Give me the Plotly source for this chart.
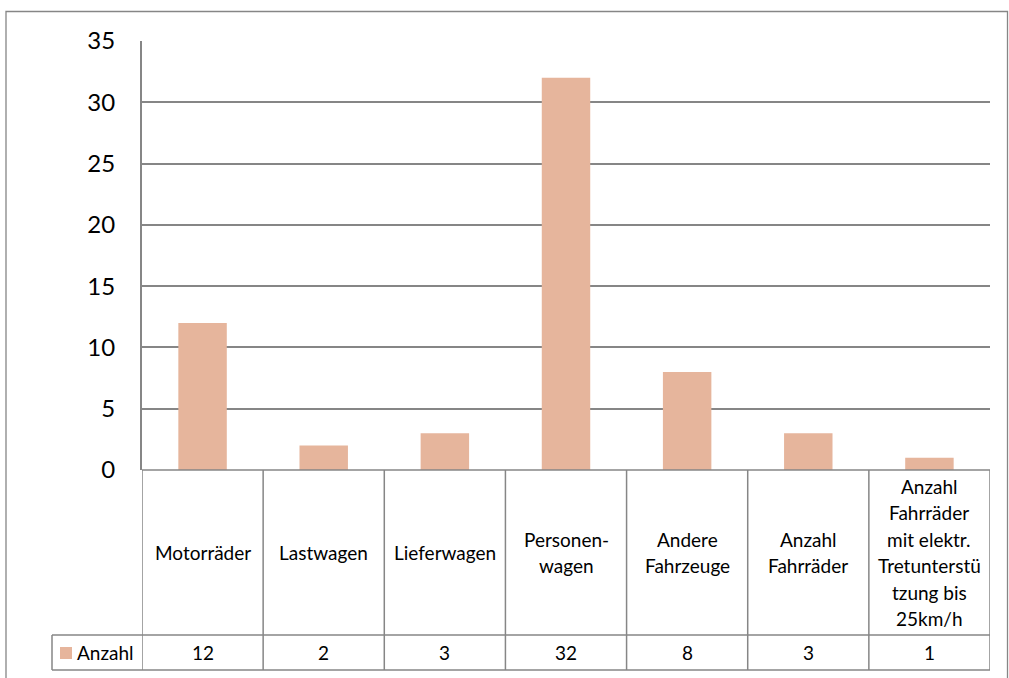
import plotly.graph_objects as go

# ---- data ----
categories = ["Motorräder", "Lastwagen", "Lieferwagen", "Personen-\nwagen",
              "Andere\nFahrzeuge", "Anzahl\nFahrräder",
              "Anzahl\nFahrräder\nmit elektr.\nTretunterstü\ntzung bis\n25km/h"]
values = [12, 2, 3, 32, 8, 3, 1]
series_name = "Anzahl"
y_ticks = [0, 5, 10, 15, 20, 25, 30, 35]

# ---- layout geometry (pixels) ----
W, H = 1009, 678
PL, PR, PT, PB = 142, 990, 41, 470   # plot area
ROW1_B, ROW2_B = 635, 670            # table row bottoms
LEG_L = 52
PH = PB - PT
PW = PR - PL

def py(p):  # pixel y -> paper y
    return (PB - p) / PH

def px(p):  # pixel x -> paper x
    return (p - PL) / PW

BAR = "#E6B59C"
GRID = "#868686"
FONT = "Lato, 'Open Sans', sans-serif"
TXT = 19

fig = go.Figure()
fig.add_trace(go.Bar(x=list(range(len(values))), y=values, name=series_name,
                     marker=dict(color=BAR, line=dict(width=0)),
                     showlegend=False))

shapes = []
# outer chart border
shapes.append(dict(type="rect", xref="paper", yref="paper",
                   x0=px(6), x1=px(1007.5), y0=py(720), y1=py(11.5),
                   line=dict(color=GRID, width=1.3), fillcolor="rgba(0,0,0,0)",
                   layer="below"))
n = len(values)
# table: horizontal lines
for yy in (PB, ROW1_B):
    shapes.append(dict(type="line", xref="x", yref="paper", x0=-0.5, x1=n - 0.5,
                       y0=py(yy), y1=py(yy), line=dict(color=GRID, width=1.5)))
shapes.append(dict(type="line", xref="paper", yref="paper", x0=px(LEG_L), x1=1,
                   y0=py(ROW2_B), y1=py(ROW2_B), line=dict(color=GRID, width=1.5)))
shapes.append(dict(type="line", xref="paper", yref="paper", x0=px(LEG_L), x1=0,
                   y0=py(ROW1_B), y1=py(ROW1_B), line=dict(color=GRID, width=1.5)))
shapes.append(dict(type="line", xref="paper", yref="paper", x0=px(LEG_L), x1=px(LEG_L),
                   y0=py(ROW1_B), y1=py(ROW2_B), line=dict(color=GRID, width=1.5)))
# table: vertical lines
for i in range(n + 1):
    shapes.append(dict(type="line", xref="x", yref="paper", x0=i - 0.5, x1=i - 0.5,
                       y0=py(PB), y1=py(ROW2_B), line=dict(color=GRID, width=1.5)))
# legend key
shapes.append(dict(type="rect", xref="paper", yref="paper",
                   x0=px(60), x1=px(72), y0=py(659), y1=py(647),
                   fillcolor=BAR, line=dict(width=0)))

annotations = []
LINE_H = 26.5
row1_c = (PB + ROW1_B) / 2
for i, cat in enumerate(categories):
    lines = cat.split("\n")
    k = len(lines)
    for j, t in enumerate(lines):
        yc = row1_c + (j - (k - 1) / 2) * LINE_H
        annotations.append(dict(x=i, xref="x", y=py(yc), yref="paper", text=t,
                                showarrow=False, xanchor="center", yanchor="middle",
                                font=dict(size=TXT, color="black", family=FONT)))
row2_c = (ROW1_B + ROW2_B) / 2
for i, v in enumerate(values):
    annotations.append(dict(x=i, xref="x", y=py(row2_c), yref="paper", text=str(v),
                            showarrow=False, xanchor="center", yanchor="middle",
                            font=dict(size=TXT, color="black", family=FONT)))
annotations.append(dict(x=px(75), xref="paper", y=py(row2_c), yref="paper",
                        text=series_name, showarrow=False, xanchor="left",
                        yanchor="middle",
                        font=dict(size=TXT, color="black", family=FONT)))

fig.update_layout(
    width=W, height=H,
    margin=dict(l=PL, r=W - PR, t=PT, b=H - PB, pad=0),
    paper_bgcolor="white", plot_bgcolor="white",
    bargap=0.6,
    font=dict(family=FONT, color="black"),
    xaxis=dict(range=[-0.5, n - 0.5], showticklabels=False, showgrid=False,
               zeroline=False, showline=False, ticks=""),
    yaxis=dict(range=[0, 35], tickvals=y_ticks, showgrid=True, gridcolor=GRID,
               gridwidth=1.5, zeroline=False, showline=True, linecolor=GRID,
               linewidth=2.2, ticks="", ticklabelstandoff=20,
               tickfont=dict(size=24, color="black", family=FONT)),
    shapes=shapes,
    annotations=annotations,
)

fig.write_html("out.html")
